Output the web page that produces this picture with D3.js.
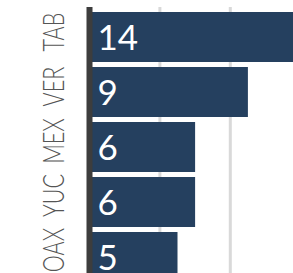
<!DOCTYPE html>
<html>
<head>
<meta charset="utf-8">
<script src="https://cdn.jsdelivr.net/npm/d3@7"></script>
<style>
  html, body { margin: 0; padding: 0; background: #fff; overflow: hidden; }
  svg { display: block; }
</style>
</head>
<body>
<svg id="chart" width="293" height="273"></svg>
<script>
const categories = ["TAB", "VER", "MEX", "YUC", "OAX"];
const values = [14, 9, 6, 6, 5];
const gridTicks = [4, 8];

const W = 293, H = 273;
const svg = d3.select("#chart");

const x = d3.scaleLinear().domain([0, 14]).range([89.5, 89.5 + 14 * 17.6]);
const y = d3.scaleBand().domain(categories).range([7, 287]).paddingInner(0.0909).paddingOuter(0.0909);

// gridlines
svg.append("g")
  .selectAll("line")
  .data(gridTicks)
  .join("line")
  .attr("x1", d => x(d)).attr("x2", d => x(d))
  .attr("y1", y.range()[0]).attr("y2", y.range()[1])
  .attr("stroke", "#d9d9d9")
  .attr("stroke-width", 3);

// bars
svg.append("g")
  .selectAll("rect")
  .data(values)
  .join("rect")
  .attr("x", x(0))
  .attr("y", (d, i) => y(categories[i]))
  .attr("width", d => x(d) - x(0))
  .attr("height", y.bandwidth())
  .attr("fill", "#25405f");

// value labels
svg.append("g")
  .selectAll("text")
  .data(values)
  .join("text")
  .attr("x", x(0) + 8)
  .attr("y", (d, i) => y(categories[i]) + y.bandwidth() / 2)
  .attr("dy", "0.36em")
  .attr("fill", "#fff")
  .style("font-family", "Lato, sans-serif")
  .style("font-size", "35px")
  .text(d => d);

// axis line
svg.append("line")
  .attr("x1", x(0)).attr("x2", x(0))
  .attr("y1", y.range()[0]).attr("y2", y.range()[1])
  .attr("stroke", "#3d3d3d")
  .attr("stroke-width", 6);

// category labels (rotated)
const labelPos = d3.scalePoint().domain(categories).range([32, 250]);
svg.append("g")
  .selectAll("text")
  .data(categories)
  .join("text")
  .attr("transform", d => `translate(63.5,${labelPos(d)}) rotate(-90) scale(0.72,1)`)
  .attr("text-anchor", "middle")
  .attr("fill", "#555555")
  .style("font-family", "Lato, sans-serif")
  .style("font-weight", 300)
  .style("font-size", "30px")
  .text(d => d);
</script>
</body>
</html>
